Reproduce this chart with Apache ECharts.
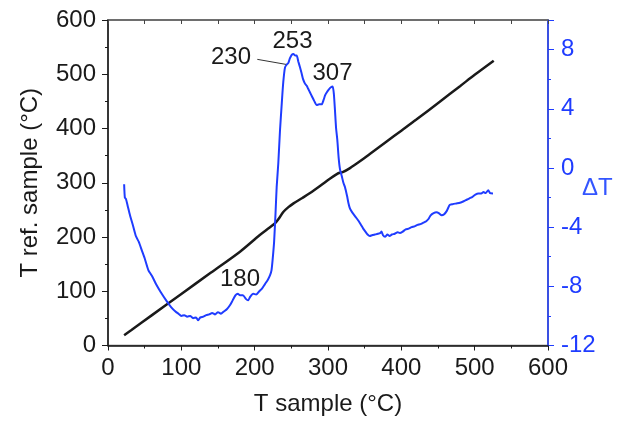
<!DOCTYPE html>
<html>
<head>
<meta charset="utf-8">
<script src="https://cdn.jsdelivr.net/npm/echarts@6/dist/echarts.min.js"></script>
<style>
  html, body { margin: 0; padding: 0; background: #fff; }
  #dtaBox { width: 621px; height: 421px; }
</style>
</head>
<body>
<div id="dtaBox"></div>
<script>
// T ref. sample vs T sample (black, left axis)
var refLine = [
    [22, 19], [32, 28.6], [60, 56], [100, 95], [140, 134], [180, 173], [207, 203.7],
    [220, 217], [228, 225.5], [233, 234], [239, 246], [246, 255], [253, 262],
    [265, 272], [275, 280.6], [290, 295], [303, 308], [312, 316], [316, 318.5],
    [320, 319.5], [330, 327], [344, 340], [357, 353], [380, 376], [400, 396],
    [420, 416], [452, 449], [480, 478], [500, 499], [526, 525]
];

// ΔT vs T sample (blue, right axis)
var deltaT = [
    [22, -1.1], [23, -2.0], [24.5, -2.1], [27, -2.6], [30, -3.2], [34.5, -3.97], [38, -4.6],
    [42, -5.0], [46, -5.55], [50, -6.1], [55, -6.9], [60, -7.3], [66, -7.9], [72, -8.4],
    [80, -9.0], [86, -9.4], [92, -9.7], [96, -9.85], [100, -10.0], [104, -9.95], [108, -10.05],
    [112, -10.0], [116, -10.15], [120, -10.1], [123, -10.3], [126, -10.1], [130, -10.05],
    [134, -9.95], [138, -9.9], [142, -9.8], [146, -9.9], [150, -9.75], [154, -9.85],
    [158, -9.7], [162, -9.55], [166, -9.3], [170, -8.95], [174, -8.6], [177, -8.5],
    [180, -8.6], [184, -8.6], [188, -8.85], [191, -8.95], [194, -8.7], [198, -8.5],
    [202, -8.55], [206, -8.35], [210, -8.15], [214, -7.85], [218, -7.55], [221, -7.25],
    [223, -6.9], [224.5, -6.2], [226.5, -5.0], [228.5, -3.0], [230, -1.3], [232.2, 0.3],
    [234.5, 2.5], [237, 4.4], [239, 5.8], [241.4, 6.8], [244, 7.0], [246, 7.1], [248, 7.4],
    [250.5, 7.65], [253, 7.7], [255, 7.6], [257.3, 7.6], [259.5, 7.2], [261.8, 6.8],
    [264, 6.4], [266, 6.0], [268.6, 5.7], [271, 5.55], [273, 5.35], [275.5, 5.1],
    [278, 4.85], [281, 4.55], [284.6, 4.25], [288, 4.3], [291.4, 4.3], [294, 4.6],
    [296, 4.9], [298.2, 5.1], [301, 5.3], [304, 5.45], [306.4, 5.5], [308, 5.0],
    [309.5, 3.9], [311, 2.7], [312.7, 1.9], [314.5, 0.7], [316.4, -0.1], [319, -0.6],
    [321, -1.0], [323.2, -1.3], [326, -1.9], [328, -2.4], [330, -2.75], [333, -3.0],
    [336, -3.2], [339, -3.4], [342, -3.6], [345, -3.85], [348, -4.1], [351, -4.3],
    [354, -4.5], [357, -4.6], [360, -4.55], [364, -4.5], [368, -4.45], [371, -4.4],
    [373, -4.3], [375, -4.55], [378, -4.65], [381, -4.5], [384, -4.6], [387, -4.5],
    [391, -4.45], [395, -4.35], [398, -4.4], [402, -4.3], [406, -4.15], [410, -4.1],
    [414, -4.0], [418, -3.95], [422, -3.85], [426, -3.8], [430, -3.7], [434, -3.6],
    [437, -3.45], [440, -3.2], [444, -3.05], [448, -3.0], [451, -3.05], [455, -3.2],
    [458, -3.15], [462, -2.9], [466, -2.5], [470, -2.45], [475, -2.4], [480, -2.35],
    [485, -2.25], [489, -2.15], [493, -2.05], [497, -1.95], [501, -1.8], [505, -1.72],
    [509, -1.72], [512, -1.62], [515, -1.7], [518.5, -1.5], [521, -1.7], [525, -1.72]
];

// peak labels, placed in (T sample, ΔT) coordinates
var peakLabels = [
    { name: '230', coord: [167.7, 7.47] },
    { name: '253', coord: [251.6, 8.55] },
    { name: '307', coord: [306.1, 6.38] },
    { name: '180', coord: [180, -7.51] }
];
var leader230 = [[203.6, 7.34], [242.7, 7.0]];

var fontName = 'Liberation Sans';
var black = '#1a1a1a';
var blue = '#1f3cff';

function initDTA() {
    var myChart = echarts.init(document.getElementById('dtaBox'));

    var markData = [];
    $each(peakLabels, function (p) {
        markData.push({
            name: p.name,
            coord: p.coord,
            value: p.name
        });
    });

    var option = {
        animation: false,
        textStyle: { fontFamily: fontName },
        grid: {
            left: 108,
            right: 73,
            top: 20,
            bottom: 75.5,
            outerBoundsMode: 'none',
            containLabel: false,
            show: true,
            borderColor: '#666',
            borderWidth: 1.5,
            backgroundColor: 'transparent'
        },
        xAxis: [
            {
                type: 'value',
                position: 'bottom',
                min: 0,
                max: 600,
                interval: 100,
                name: 'T sample (°C)',
                nameLocation: 'middle',
                nameGap: 47,
                nameTextStyle: { fontSize: 24, color: black, fontFamily: fontName },
                axisLine: { onZero: false, lineStyle: { color: black, width: 1.5 } },
                axisTick: { show: true, inside: false, length: 5, lineStyle: { color: black } },
                minorTick: { show: true, splitNumber: 2, length: 3, lineStyle: { color: black } },
                axisLabel: { fontSize: 24, color: black, margin: 11, fontFamily: fontName },
                splitLine: { show: false }
            },
            {
                type: 'value',
                position: 'top',
                min: 0,
                max: 600,
                interval: 50,
                axisLine: { show: true, onZero: false, lineStyle: { color: '#666', width: 1.5 } },
                axisTick: { show: true, inside: true, length: 4, lineStyle: { color: '#444' } },
                axisLabel: { show: false },
                splitLine: { show: false }
            }
        ],
        yAxis: [
            {
                type: 'value',
                position: 'left',
                min: 0,
                max: 600,
                interval: 100,
                name: 'T ref. sample (°C)',
                nameLocation: 'middle',
                nameGap: 66,
                nameRotate: 90,
                nameTextStyle: { fontSize: 24, color: black, fontFamily: fontName },
                axisLine: { show: true, onZero: false, lineStyle: { color: black, width: 1.5 } },
                axisTick: { show: true, inside: false, length: 6, lineStyle: { color: black } },
                minorTick: { show: true, splitNumber: 2, length: 3, lineStyle: { color: black } },
                axisLabel: { fontSize: 24, color: black, margin: 12, fontFamily: fontName },
                splitLine: { show: false }
            },
            {
                type: 'value',
                position: 'right',
                min: -12,
                max: 10,
                interval: 4,
                name: 'ΔT',
                nameLocation: 'middle',
                nameGap: 34,
                nameRotate: 0,
                nameMoveOverlap: false,
                nameTextStyle: {
                    fontSize: 24, color: '#3355ff', fontFamily: fontName,
                    verticalAlign: 'top', lineHeight: 12
                },
                axisLine: { show: true, onZero: false, lineStyle: { color: blue, width: 1.5 } },
                axisTick: { show: true, inside: false, length: 6, lineStyle: { color: blue } },
                minorTick: { show: true, splitNumber: 2, length: 3, lineStyle: { color: blue } },
                axisLabel: { fontSize: 24, color: blue, margin: 13, showMaxLabel: false, fontFamily: fontName },
                splitLine: { show: false }
            }
        ],
        series: [
            {
                name: 'T ref. sample',
                type: 'line',
                xAxisIndex: 0,
                yAxisIndex: 0,
                showSymbol: false,
                smooth: 0.3,
                lineStyle: { color: black, width: 2.5 },
                data: refLine
            },
            {
                name: 'ΔT',
                type: 'line',
                xAxisIndex: 0,
                yAxisIndex: 1,
                showSymbol: false,
                smooth: 0.2,
                lineStyle: { color: blue, width: 2 },
                data: deltaT,
                markPoint: {
                    silent: true,
                    symbol: 'circle',
                    symbolSize: 1,
                    itemStyle: { color: 'rgba(0,0,0,0)' },
                    label: {
                        show: true,
                        position: 'inside',
                        formatter: '{b}',
                        fontSize: 24,
                        color: black,
                        fontFamily: fontName
                    },
                    data: markData
                },
                markLine: {
                    silent: true,
                    symbol: 'none',
                    label: { show: false },
                    lineStyle: { color: '#333', width: 1, type: 'solid' },
                    data: [[{ coord: leader230[0] }, { coord: leader230[1] }]]
                }
            }
        ]
    };

    myChart.setOption(option);
}

function $each(list, fn) {
    for (var i = 0; i < list.length; i++) {
        fn(list[i], i);
    }
}

initDTA();
</script>
</body>
</html>
